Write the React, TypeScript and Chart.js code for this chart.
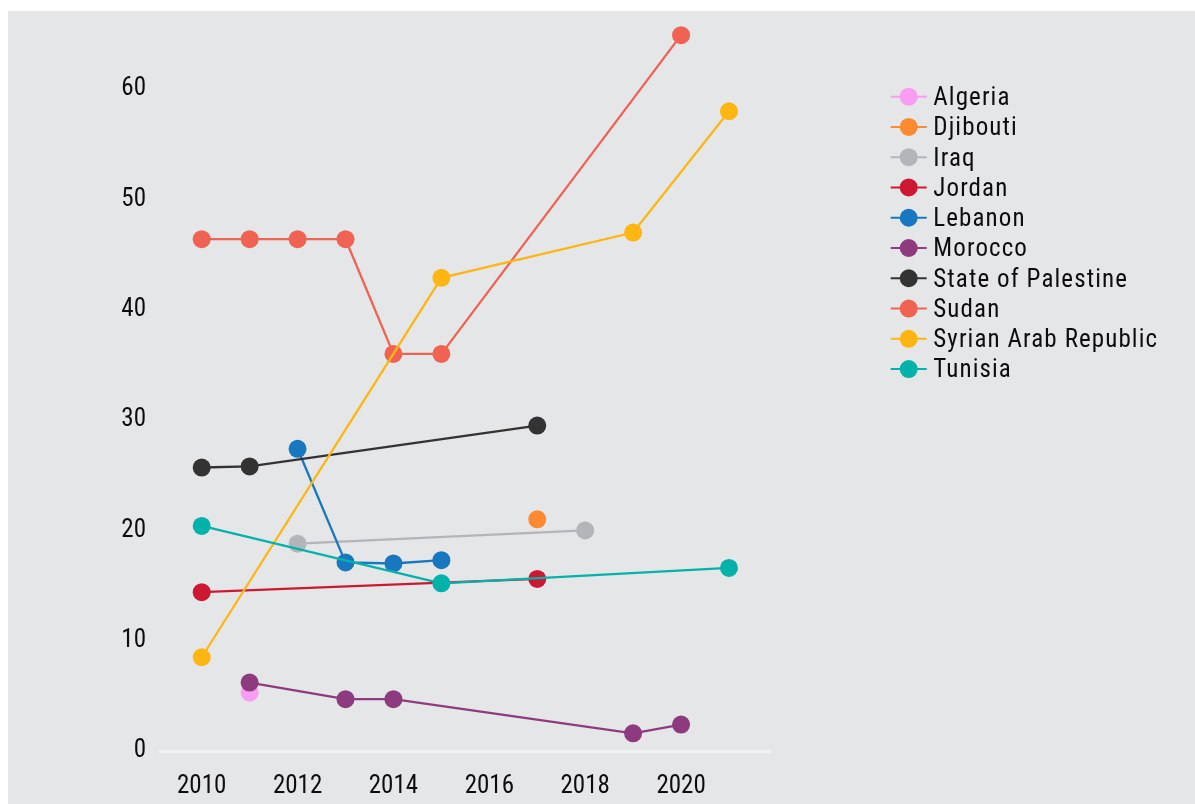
import React, { useEffect, useRef } from "react";
import { Chart, registerables } from "chart.js";

Chart.register(...registerables);

// ---- Data ----
const countries = [
  "Algeria",
  "Djibouti",
  "Iraq",
  "Jordan",
  "Lebanon",
  "Morocco",
  "State of Palestine",
  "Sudan",
  "Syrian Arab Republic",
  "Tunisia",
];

const algeriaYears = [2011];
const algeriaValues = [5.3];

const djiboutiYears = [2017];
const djiboutiValues = [21.0];

const iraqYears = [2012, 2018];
const iraqValues = [18.8, 20.0];

const jordanYears = [2010, 2017];
const jordanValues = [14.4, 15.6];

const lebanonYears = [2012, 2013, 2014, 2015];
const lebanonValues = [27.4, 17.1, 17.0, 17.3];

const moroccoYears = [2011, 2013, 2014, 2019, 2020];
const moroccoValues = [6.2, 4.7, 4.7, 1.6, 2.4];

const palestineYears = [2010, 2011, 2017];
const palestineValues = [25.7, 25.8, 29.5];

const sudanYears = [2010, 2011, 2012, 2013, 2014, 2015, 2020];
const sudanValues = [46.4, 46.4, 46.4, 46.4, 36.0, 36.0, 64.9];

const syriaYears = [2010, 2015, 2019, 2021];
const syriaValues = [8.5, 42.9, 47.0, 58.0];

const tunisiaYears = [2010, 2015, 2021];
const tunisiaValues = [20.4, 15.2, 16.6];

const seriesYears = [
  algeriaYears,
  djiboutiYears,
  iraqYears,
  jordanYears,
  lebanonYears,
  moroccoYears,
  palestineYears,
  sudanYears,
  syriaYears,
  tunisiaYears,
];
const seriesValues = [
  algeriaValues,
  djiboutiValues,
  iraqValues,
  jordanValues,
  lebanonValues,
  moroccoValues,
  palestineValues,
  sudanValues,
  syriaValues,
  tunisiaValues,
];

const colors = [
  "#f99cf3",
  "#ff8a32",
  "#b4b5b8",
  "#cc1931",
  "#1778bf",
  "#8d3a7f",
  "#333333",
  "#f06352",
  "#ffb612",
  "#00b2a9",
];

const xTicks = [2010, 2012, 2014, 2016, 2018, 2020];
const yTicks = [0, 10, 20, 30, 40, 50, 60];

const FONT = 'Roboto, "DejaVu Sans Condensed", sans-serif';
const TEXT = "#0d0d0d";

const customLegend = {
  id: "customLegend",
  afterDraw(chart: any) {
    const ctx = chart.ctx as CanvasRenderingContext2D;
    ctx.save();
    const x0 = 882.7;
    const y0 = 85.7;
    const step = 30.26;
    chart.data.datasets.forEach((ds: any, i: number) => {
      const y = y0 + i * step;
      ctx.strokeStyle = ds.borderColor;
      ctx.lineWidth = 2;
      ctx.beginPath();
      ctx.moveTo(x0, y);
      ctx.lineTo(x0 + 36, y);
      ctx.stroke();
      ctx.fillStyle = ds.backgroundColor;
      ctx.beginPath();
      ctx.arc(x0 + 18, y, 9, 0, Math.PI * 2);
      ctx.fill();
      ctx.fillStyle = TEXT;
      ctx.font = `condensed 25px ${FONT}`;
      (ctx as any).letterSpacing = "1.1px";
      ctx.textAlign = "left";
      ctx.textBaseline = "alphabetic";
      ctx.fillText(ds.label, x0 + 42.6, y + 8.4);
    });
    ctx.restore();
  },
};

export default function App() {
  const canvasRef = useRef<HTMLCanvasElement | null>(null);

  useEffect(() => {
    const canvas = canvasRef.current;
    if (!canvas) return;
    const n = countries.length;
    const tickFont = { family: FONT, size: 25, weight: "condensed" as any };
    const chart = new Chart(canvas, {
      type: "line",
      data: {
        datasets: countries.map((name, i) => ({
          label: name,
          data: seriesYears[i].map((yr, j) => ({ x: yr, y: seriesValues[i][j] })),
          borderColor: colors[i],
          backgroundColor: colors[i],
          borderWidth: 2.3,
          pointRadius: 9,
          pointHoverRadius: 9,
          pointBorderWidth: 0,
          pointBackgroundColor: colors[i],
          fill: false,
          tension: 0,
          clip: false as any,
          order: n - i,
        })),
      },
      options: {
        animation: false,
        responsive: false,
        layout: { padding: { top: 12, right: 424.3, bottom: 0, left: 0 } },
        plugins: {
          legend: { display: false },
          tooltip: { enabled: false },
        },
        scales: {
          x: {
            type: "linear",
            min: 2009.13,
            max: 2021.87,
            afterBuildTicks: (s: any) => {
              s.ticks = xTicks.map((v) => ({ value: v }));
            },
            afterFit: (s: any) => {
              s.height = 53;
              s.paddingLeft = 0;
              s.paddingRight = 0;
            },
            ticks: {
              font: tickFont,
              color: TEXT,
              padding: 21,
              maxRotation: 0,
              autoSkip: false,
              callback: (v: any) => String(v),
            },
            grid: { display: false, drawTicks: false },
            border: { display: true, color: "#eef2f7", width: 3 },
          },
          y: {
            type: "linear",
            min: 0,
            max: 66,
            afterBuildTicks: (s: any) => {
              s.ticks = yTicks.map((v) => ({ value: v }));
            },
            afterFit: (s: any) => {
              s.width = 152;
              s.paddingTop = 0;
              s.paddingBottom = 0;
            },
            ticks: {
              font: tickFont,
              color: TEXT,
              padding: 14,
              callback: (v: any) => String(v),
            },
            grid: { display: false, drawTicks: false },
            border: { display: false },
          },
        },
      },
      plugins: [customLegend],
    });
    return () => chart.destroy();
  }, []);

  return (
    <div
      style={{
        position: "fixed",
        left: 8,
        top: 11,
        width: 1187,
        height: 793,
        background: "#e5e6e8",
      }}
    >
      <canvas
        ref={canvasRef}
        width={1187}
        height={793}
        style={{ width: 1187, height: 793, display: "block" }}
      />
    </div>
  );
}
